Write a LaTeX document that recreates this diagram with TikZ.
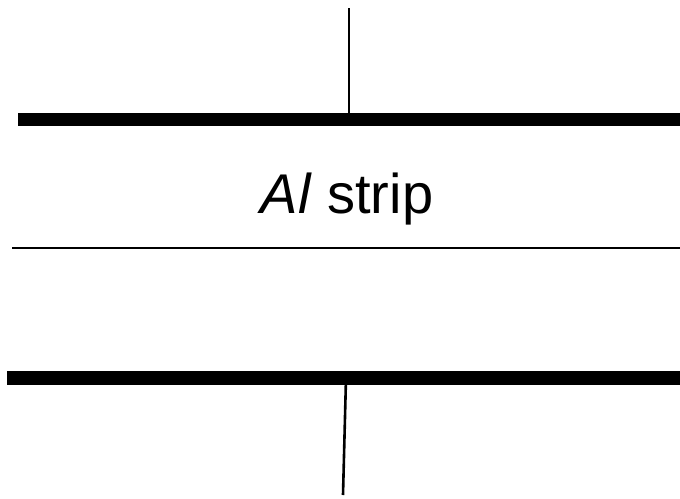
\documentclass[tikz,border=0pt]{standalone}
\usepackage{fontspec}
\setmainfont{Liberation Sans}
\begin{document}
\begin{tikzpicture}[x=1pt,y=-1pt,
  bar/.style={line width=13.5pt},
  lead/.style={line width=2.6pt},
  thinline/.style={line width=2.4pt}]
\useasboundingbox (0,0) rectangle (680,498);
% top terminal and bar
\coordinate (t1) at (349,8);
\coordinate (t2) at (349,119);
\draw[lead] (t1) -- (t2);
\coordinate (b1l) at (18,119.5);
\coordinate (b1r) at (680,119.5);
\draw[bar] (b1l) -- (b1r);
% label
\node[anchor=base, inner sep=0pt, font=\fontsize{56}{62}\selectfont] (lbl) at (347,213) {\textit{Al} strip};
% thin line
\coordinate (m1) at (12,248);
\coordinate (m2) at (680,248);
\draw[thinline] (m1) -- (m2);
% bottom bar and terminal
\coordinate (b2l) at (7,378);
\coordinate (b2r) at (680,378);
\draw[bar] (b2l) -- (b2r);
\coordinate (u1) at (346,378);
\coordinate (u2) at (343,495);
\draw[lead] (u1) -- (u2);
\end{tikzpicture}
\end{document}
